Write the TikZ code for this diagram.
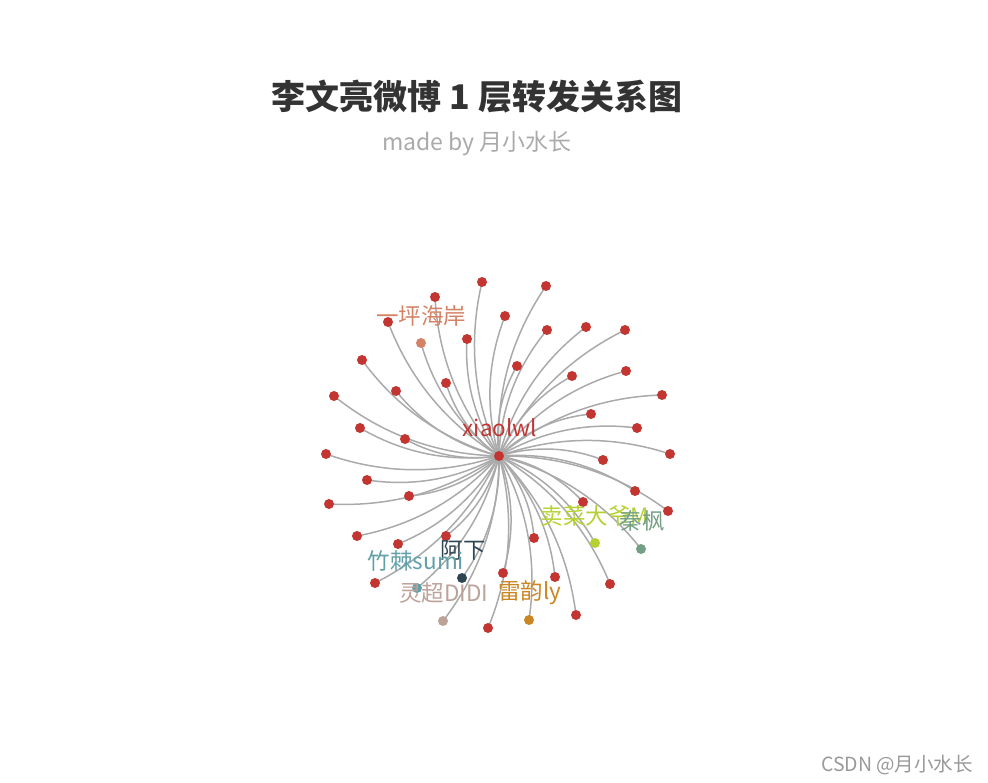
\documentclass[tikz,border=0pt]{standalone}
\usepackage{fontspec}
\setmainfont{Noto Sans CJK SC}
\usetikzlibrary{calc}
\definecolor{cred}{HTML}{C23531}
\definecolor{cnavy}{HTML}{2F4554}
\definecolor{cteal}{HTML}{61A0A8}
\definecolor{csalmon}{HTML}{D48265}
\definecolor{cgreen}{HTML}{749F83}
\definecolor{corange}{HTML}{CA8622}
\definecolor{cbeige}{HTML}{BDA29A}
\definecolor{clime}{HTML}{B5D132}
\definecolor{edgegray}{HTML}{AAAAAA}
\definecolor{titlegray}{HTML}{333333}
\definecolor{subgray}{HTML}{AAAAAA}
\definecolor{markgray}{HTML}{999999}
\pgfdeclarelayer{bg}
\pgfsetlayers{bg,main}
\begin{document}
\begin{tikzpicture}[x=1pt,y=-1pt,
  dot/.style={circle,inner sep=0pt,minimum size=10pt,draw=none,fill=#1},
  lab/.style={font=\fontsize{22.5}{22.5}\selectfont,text=#1,inner sep=0pt},
  link/.style={draw=edgegray,line width=1.5pt},
]
\useasboundingbox (0,0) rectangle (988,783);
\node[font=\bfseries\fontsize{34}{34}\selectfont,text=titlegray] (title) at (477,97) {李文亮微博 1 层转发关系图};
\node[font=\fontsize{23}{23}\selectfont,text=subgray] (sub) at (477,144) {made by 月小水长};
\node[font=\fontsize{19.5}{19.5}\selectfont,text=markgray] (mark) at (897,765) {CSDN @月小水长};
\node[dot=cred] (c) at (499,456) {};
\foreach \i/\x/\y/\c in {
 1/482/282/cred, 2/435/297/cred, 3/505/316/cred, 4/388/322/cred, 5/421/343/csalmon,
 6/467/339/cred, 7/362/360/cred, 8/446/383/cred, 9/396/391/cred, 10/334/396/cred,
 11/360/428/cred, 12/405/439/cred, 13/326/454/cred, 14/546/286/cred, 15/547/330/cred,
 16/586/327/cred, 17/625/330/cred, 18/517/366/cred, 19/572/376/cred, 20/626/371/cred,
 21/662/395/cred, 22/591/414/cred, 23/637/428/cred, 24/670/454/cred, 25/603/460/cred,
 26/367/480/cred, 27/409/496/cred, 28/329/504/cred, 29/357/536/cred, 30/398/544/cred,
 31/446/536/cred, 32/462/578/cnavy, 33/375/583/cred, 34/417/588/cteal, 35/443/621/cbeige,
 36/488/628/cred, 37/503/573/cred, 38/635/491/cred, 39/668/511/cred, 40/583/502/cred,
 41/595/543/clime, 42/641/549/cgreen, 43/534/538/cred, 44/555/577/cred, 45/610/584/cred,
 46/529/620/corange, 47/576/615/cred}
 {\node[dot=\c] (n\i) at (\x,\y) {};}
\begin{pgfonlayer}{bg}
\foreach \i in {1,...,47}
 {\draw[link] (c.center) .. controls ($(c.center)!0.352!18.8:(n\i.center)$) and ($(n\i.center)!0.352!-18.8:(c.center)$) .. (n\i.center);}
\end{pgfonlayer}
\node[lab=cred] (lc) at (500,428) {xiaolwl};
\node[lab=csalmon] (l5) at (421,316) {一坪海岸};
\node[lab=cnavy] (l32) at (463,550) {阿下};
\node[lab=cteal] (l34) at (416,561) {竹棘sumi};
\node[lab=cbeige] (l35) at (444,593) {灵超DIDI};
\node[lab=corange] (l46) at (530,593) {雷韵ly};
\node[lab=clime] (l41) at (595,516) {卖菜大爷M};
\node[lab=cgreen] (l42) at (642,521) {秦枫};
\end{tikzpicture}
\end{document}
